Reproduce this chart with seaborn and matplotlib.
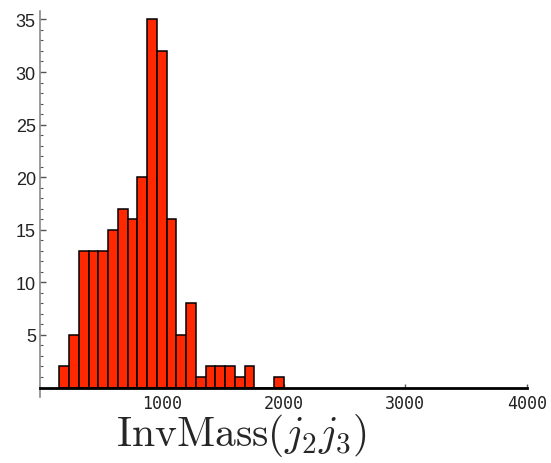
import numpy as np
import pandas as pd
import matplotlib
matplotlib.use("Agg")
import matplotlib.pyplot as plt
import seaborn as sns
from matplotlib.ticker import MultipleLocator, FixedLocator

# ---- data ----
bin_edges = [160, 240, 320, 400, 480, 560, 640, 720, 800, 880, 960, 1040,
             1120, 1200, 1280, 1360, 1440, 1520, 1600, 1680, 1760, 1840, 1920, 2000]
counts = [2, 5, 13, 13, 13, 15, 17, 16, 20, 35, 32, 16,
          5, 8, 1, 2, 2, 2, 1, 2, 0, 0, 1]
x_ticks = [1000, 2000, 3000, 4000]
y_ticks = [5, 10, 15, 20, 25, 30, 35]
x_label = r"$\mathrm{InvMass}(j_2 j_3)$"

centers = [(a + b) / 2 for a, b in zip(bin_edges[:-1], bin_edges[1:])]
df = pd.DataFrame({"mass": centers, "n": counts})

sns.set_theme(style="white")
plt.rcParams["mathtext.fontset"] = "cm"

fig = plt.figure(figsize=(5.51, 4.64), dpi=100)
ax = fig.add_axes([40 / 551, 66 / 464, 487 / 551, 386 / 464])

sns.histplot(data=df, x="mass", weights="n", bins=bin_edges, ax=ax,
             color="#ff2800", alpha=1.0, edgecolor="black", linewidth=1.1)

ax.set_xlim(0, 4000)
ax.set_ylim(-0.9, 35.8)

for s in ["top", "right"]:
    ax.spines[s].set_visible(False)
ax.spines["bottom"].set_position(("data", 0))
ax.spines["bottom"].set_color("black")
ax.spines["bottom"].set_linewidth(2.0)
ax.spines["bottom"].set_zorder(5)
ax.spines["left"].set_color("#8a8a8a")
ax.spines["left"].set_linewidth(1.2)

ax.xaxis.set_major_locator(FixedLocator(x_ticks))
ax.yaxis.set_major_locator(FixedLocator(y_ticks))
ax.yaxis.set_minor_locator(MultipleLocator(1))
ax.set_xticklabels([str(t) for t in x_ticks])
ax.set_yticklabels([str(t) for t in y_ticks])

ax.tick_params(axis="y", which="major", direction="in", length=4, width=1,
               color="#555555", labelsize=13, labelcolor="#222222", pad=3,
               left=True)
ax.tick_params(axis="y", which="minor", direction="in", length=2, width=0.8,
               color="#555555", left=True)
ax.tick_params(axis="x", which="major", direction="in", length=3, width=1,
               color="#555555", labelsize=12, labelcolor="#222222", pad=5,
               bottom=True)
for lbl in ax.get_xticklabels():
    lbl.set_fontfamily("DejaVu Sans Mono")
for lbl in ax.get_yticklabels():
    lbl.set_fontfamily("Liberation Sans")

ax.set_ylabel("")
ax.set_xlabel(x_label, fontsize=30)
ax.xaxis.set_label_coords((241 - 40) / 487, -0.036)

fig.savefig("out.png", dpi=100)
